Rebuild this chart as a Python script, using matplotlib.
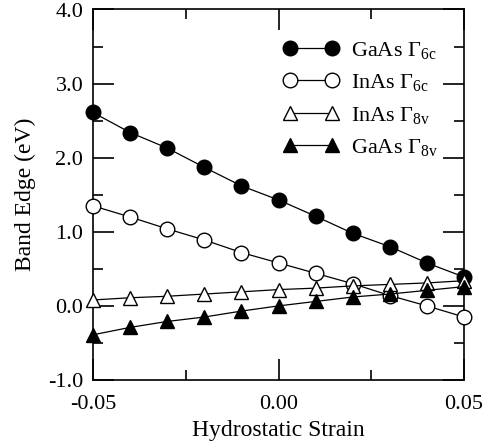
import numpy as np
import matplotlib
matplotlib.use("Agg")
import matplotlib.pyplot as plt
from matplotlib.ticker import MultipleLocator, FormatStrFormatter

plt.rcParams['font.family'] = ['Liberation Serif', 'DejaVu Serif']
plt.rcParams['mathtext.fontset'] = 'custom'
plt.rcParams['mathtext.rm'] = 'Liberation Serif'
plt.rcParams['mathtext.it'] = 'Liberation Serif:italic'

# strain points
strain = [-0.05, -0.04, -0.03, -0.02, -0.01, 0.00, 0.01, 0.02, 0.03, 0.04, 0.05]

# band edges (eV)
gaas_6c = [2.61, 2.34, 2.13, 1.87, 1.62, 1.43, 1.21, 0.98, 0.80, 0.58, 0.39]
inas_6c = [1.35, 1.20, 1.04, 0.89, 0.72, 0.58, 0.44, 0.30, 0.14, 0.00, -0.15]
inas_8v = [0.08, 0.11, 0.13, 0.16, 0.19, 0.22, 0.24, 0.27, 0.29, 0.31, 0.34]
gaas_8v = [-0.39, -0.29, -0.21, -0.15, -0.07, 0.00, 0.06, 0.12, 0.16, 0.21, 0.26]

labels = ['GaAs $\\Gamma_{\\mathrm{6c}}$', 'InAs $\\Gamma_{\\mathrm{6c}}$',
          'InAs $\\Gamma_{\\mathrm{8v}}$', 'GaAs $\\Gamma_{\\mathrm{8v}}$']

fig = plt.figure(figsize=(4.86, 4.44), dpi=100)
ax = fig.add_axes([93/486, 1-380/444, (464-93)/486, (380-9.5)/444])

kw = dict(color='black', ms=10.5, lw=0.9, mew=1.0, clip_on=False, zorder=3)
ax.plot(strain, gaas_6c, '-o', mfc='black', label=labels[0], **kw)
ax.plot(strain, inas_6c, '-o', mfc='white', label=labels[1], **kw)
ax.plot(strain, inas_8v, '-^', mfc='white', label=labels[2], **kw)
ax.plot(strain, gaas_8v, '-^', mfc='black', label=labels[3], **kw)

ax.set_xlim(-0.05, 0.05)
ax.set_ylim(-1.0, 4.0)
ax.xaxis.set_major_locator(MultipleLocator(0.05))
ax.xaxis.set_minor_locator(MultipleLocator(0.025))
ax.yaxis.set_major_locator(MultipleLocator(1.0))
ax.yaxis.set_minor_locator(MultipleLocator(0.5))
ax.xaxis.set_major_formatter(FormatStrFormatter('%.2f'))
ax.yaxis.set_major_formatter(FormatStrFormatter('%.1f'))

ax.tick_params(which='both', direction='in', top=True, right=True, width=1.2, labelsize=16)
ax.tick_params(which='major', length=15)
ax.tick_params(axis='y', which='major', pad=7)
ax.tick_params(axis='x', which='major', pad=11)
ax.tick_params(which='minor', length=7.5)
for s in ax.spines.values():
    s.set_linewidth(1.2)

ax.set_xlabel('Hydrostatic Strain', fontsize=17, labelpad=4)
ax.set_ylabel('Band Edge (eV)', fontsize=17, labelpad=9)

ax.legend(loc='upper right', bbox_to_anchor=(0.965, 0.955), frameon=False, numpoints=2,
          handlelength=2.5, handletextpad=0.55, labelspacing=0.52, fontsize=16,
          borderaxespad=0.2)

fig.savefig('out.png', dpi=100)
